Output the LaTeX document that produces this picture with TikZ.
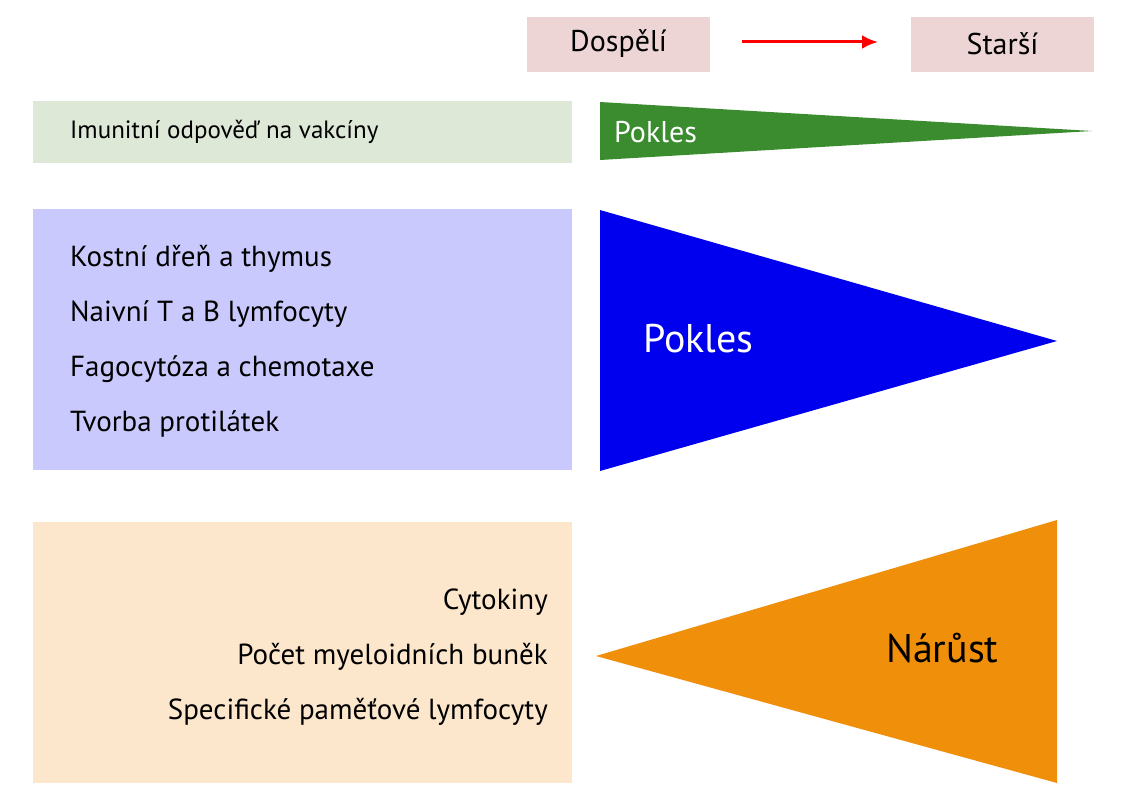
\documentclass[tikz,border=0pt]{standalone}
\usepackage{fontspec}
\setmainfont{PT Sans}
\usetikzlibrary{arrows.meta}
\definecolor{pinkbox}{HTML}{EDD5D5}
\definecolor{greenbox}{HTML}{DDE9D6}
\definecolor{greentri}{HTML}{3A8C2E}
\definecolor{bluebox}{HTML}{C9C9FD}
\definecolor{bluetri}{HTML}{0000EE}
\definecolor{orangebox}{HTML}{FCE6CC}
\definecolor{orangetri}{HTML}{F0900A}
\begin{document}
\begin{tikzpicture}[x=1pt,y=-1pt,
  lbl/.style={font=\fontsize{29}{34}\selectfont, inner sep=0pt},
  hdr/.style={font=\fontsize{30}{34}\selectfont, inner sep=0pt}]
\useasboundingbox[fill=white] (0,0) rectangle (1122,800);
% header
\fill[pinkbox] (527,17) rectangle (710,72);
\node[hdr] (dosp) at (618.5,44) {Dospělí};
\fill[pinkbox] (911,17) rectangle (1094,72);
\node[hdr] (star) at (1002.5,44) {Starší};
\coordinate (a1) at (742,42); \coordinate (a2) at (878,42);
\draw[red, line width=3pt, -{Latex[length=16pt,width=14pt]}] (a1) -- (a2);
% green row
\fill[greenbox] (33,101) rectangle (572,163);
\node[anchor=west, font=\fontsize{25}{30}\selectfont, inner sep=0pt] (g1) at (70,132) {Imunitní odpověď na vakcíny};
\fill[greentri] (600,102) -- (600,160) -- (1092,131) -- cycle;
\node[anchor=west, hdr, text=white] (gp) at (614,132) {Pokles};
% blue row
\fill[bluebox] (33,209) rectangle (572,470);
\node[anchor=west, lbl] (b1) at (70,259) {Kostní dřeň a thymus};
\node[anchor=west, lbl] (b2) at (70,314) {Naivní T a B lymfocyty};
\node[anchor=west, lbl] (b3) at (70,369) {Fagocytóza a chemotaxe};
\node[anchor=west, lbl] (b4) at (70,424) {Tvorba protilátek};
\fill[bluetri] (600,210) -- (600,471) -- (1057,341) -- cycle;
\node[anchor=west, font=\fontsize{40}{46}\selectfont, inner sep=0pt, text=white] (bp) at (643,339) {Pokles};
% orange row
\fill[orangebox] (33,522) rectangle (572,783);
\node[anchor=east, lbl] (o1) at (548,602) {Cytokiny};
\node[anchor=east, lbl] (o2) at (548,657) {Počet myeloidních buněk};
\node[anchor=east, lbl] (o3) at (548,712) {Specifické paměťové lymfocyty};
\fill[orangetri] (1057,520) -- (1057,783) -- (596,656) -- cycle;
\node[anchor=west, font=\fontsize{40}{46}\selectfont, inner sep=0pt] (on) at (886,648) {Nárůst};
\end{tikzpicture}
\end{document}
